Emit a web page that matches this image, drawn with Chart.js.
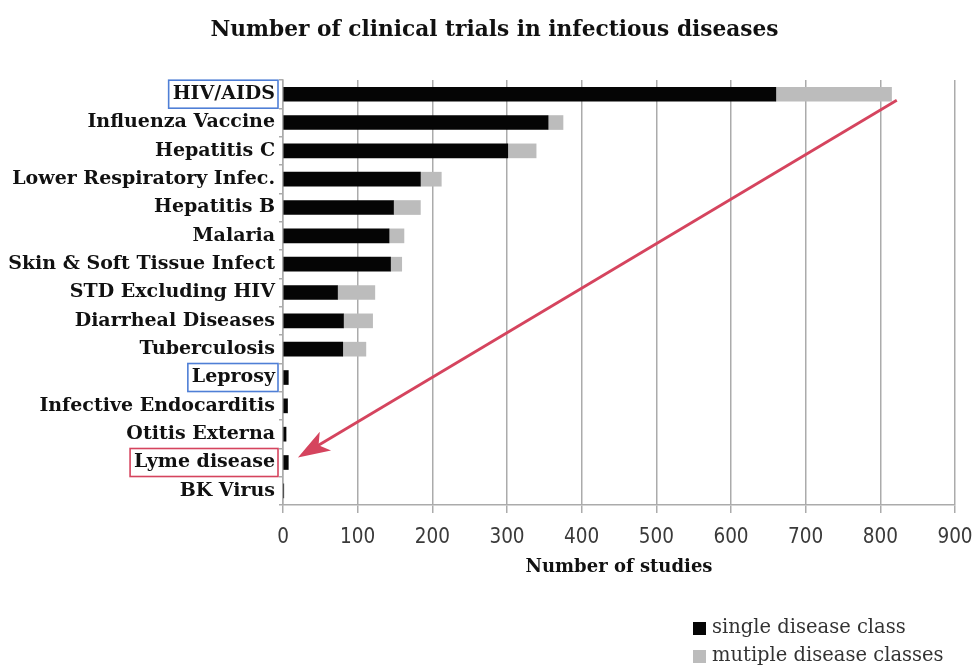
<!DOCTYPE html>
<html>
<head>
<meta charset="utf-8">
<script src="https://cdn.jsdelivr.net/npm/chart.js@4.4.1/dist/chart.umd.min.js"></script>
<style>
  html, body { margin: 0; padding: 0; background: #fff; }
  #wrap { width: 972px; height: 669px; }
</style>
</head>
<body>
<div id="wrap"><canvas id="trials"></canvas></div>
<script>
const diseases = [
  'HIV/AIDS',
  'Influenza Vaccine',
  'Hepatitis C',
  'Lower Respiratory Infec.',
  'Hepatitis B',
  'Malaria',
  'Skin & Soft Tissue Infect',
  'STD Excluding HIV',
  'Diarrheal Diseases',
  'Tuberculosis',
  'Leprosy',
  'Infective Endocarditis',
  'Otitis Externa',
  'Lyme disease',
  'BK Virus',
];
const singleClass = [660, 355, 301, 184, 148, 142, 144, 73, 81, 80, 7, 6, 4, 7, 1];
const multipleClass = [155, 20, 38, 28, 36, 20, 15, 50, 39, 31, 0, 0, 0, 0, 0];
const xTicks = [0, 100, 200, 300, 400, 500, 600, 700, 800, 900];
const blueBoxes = ['HIV/AIDS', 'Leprosy'];
const redBoxes = ['Lyme disease'];

const serif = "'DejaVu Serif', 'Liberation Serif', serif";
const labelFont = { family: serif, size: 19, weight: 'bold' };
const gridGray = '#ababab';

// boxes round some labels, the red arrow and the legend
const annotations = {
  id: 'annotations',
  afterLayout(chart) {
    // the title in the reference sits a bit right of the canvas centre
    chart.titleBlock.left += 17;
    chart.titleBlock.right += 17;
  },
  afterDraw(chart) {
    const { ctx } = chart;
    const x = chart.scales.x;
    const y = chart.scales.y;
    ctx.save();
    ctx.font = `bold ${labelFont.size}px ${serif}`;

    const box = (name, color) => {
      const i = diseases.indexOf(name);
      const cy = y.getPixelForValue(i);
      const w = ctx.measureText(name).width;
      const right = x.left - 3;
      ctx.strokeStyle = color;
      ctx.lineWidth = 1.6;
      ctx.strokeRect(right - w - 9, cy - 14, w + 7, 28);
    };
    blueBoxes.forEach(n => box(n, '#4f7fd6'));
    redBoxes.forEach(n => box(n, '#d5445e'));

    // arrow from the top bar down to Lyme disease
    const x0 = x.getPixelForValue(822);
    const y0 = y.getPixelForValue(0) + 6;
    const x1 = x.getPixelForValue(20);
    const y1 = y.getPixelForValue(diseases.indexOf('Lyme disease')) - 5;
    const ang = Math.atan2(y1 - y0, x1 - x0);
    const c = Math.cos(ang);
    const s = Math.sin(ang);
    ctx.strokeStyle = '#d5445e';
    ctx.fillStyle = '#d5445e';
    ctx.lineWidth = 2.8;
    ctx.beginPath();
    ctx.moveTo(x0, y0);
    ctx.lineTo(x1 - 20 * c, y1 - 20 * s);
    ctx.stroke();
    ctx.beginPath();
    ctx.moveTo(x1, y1);
    ctx.lineTo(x1 - 32 * c + 11 * s, y1 - 32 * s - 11 * c);
    ctx.lineTo(x1 - 24 * c, y1 - 24 * s);
    ctx.lineTo(x1 - 32 * c - 11 * s, y1 - 32 * s + 11 * c);
    ctx.closePath();
    ctx.fill();

    // legend, bottom right
    ctx.font = `19.5px ${serif}`;
    ctx.textBaseline = 'middle';
    ctx.textAlign = 'left';
    chart.data.datasets.forEach((ds, k) => {
      const ly = chart.height - 41 + k * 28;
      const lx = chart.width - 279;
      ctx.fillStyle = ds.backgroundColor;
      ctx.fillRect(lx, ly - 6, 13, 13);
      ctx.fillStyle = '#333';
      ctx.fillText(ds.label, lx + 19, ly);
    });
    ctx.restore();
  },
};

new Chart(document.getElementById('trials'), {
  type: 'bar',
  data: {
    labels: diseases,
    datasets: [
      {
        label: 'single disease class',
        data: singleClass,
        backgroundColor: '#050505',
        barThickness: 14,
      },
      {
        label: 'mutiple disease classes',
        data: multipleClass,
        backgroundColor: '#bcbcbc',
        barThickness: 14,
      },
    ],
  },
  options: {
    indexAxis: 'y',
    responsive: true,
    maintainAspectRatio: false,
    animation: false,
    layout: {
      padding: { left: 0, right: 17, top: 0, bottom: 91 },
    },
    plugins: {
      legend: { display: false },
      tooltip: { enabled: false },
      title: {
        display: true,
        text: 'Number of clinical trials in infectious diseases',
        color: '#111',
        font: { family: serif, size: 21.7, weight: 'bold' },
        padding: { top: 17, bottom: 37 },
      },
    },
    scales: {
      x: {
        stacked: true,
        min: 0,
        max: 900,
        afterBuildTicks: scale => {
          scale.ticks = xTicks.map(v => ({ value: v }));
        },
        afterFit: scale => {
          scale.height = 73;
          scale.paddingLeft = 0;
          scale.paddingRight = 0;
        },
        grid: {
          color: gridGray,
          lineWidth: 1.5,
          tickLength: 8,
        },
        border: { color: gridGray, width: 1.5 },
        ticks: {
          color: '#3a3a3a',
          padding: 12,
          font: { family: "'Liberation Sans Narrow', 'DejaVu Sans Condensed', sans-serif", size: 20.5 },
        },
        title: {
          display: true,
          text: 'Number of studies',
          color: '#111',
          font: { family: serif, size: 18, weight: 'bold' },
          padding: { top: 3, bottom: 0 },
        },
      },
      y: {
        stacked: true,
        afterFit: scale => {
          scale.width = 283;
        },
        grid: {
          drawOnChartArea: false,
          color: gridGray,
          lineWidth: 1.5,
          tickLength: 4,
        },
        border: { color: gridGray, width: 1.5 },
        ticks: {
          color: '#111',
          padding: 4,
          font: labelFont,
        },
      },
    },
  },
  plugins: [annotations],
});
</script>
</body>
</html>
